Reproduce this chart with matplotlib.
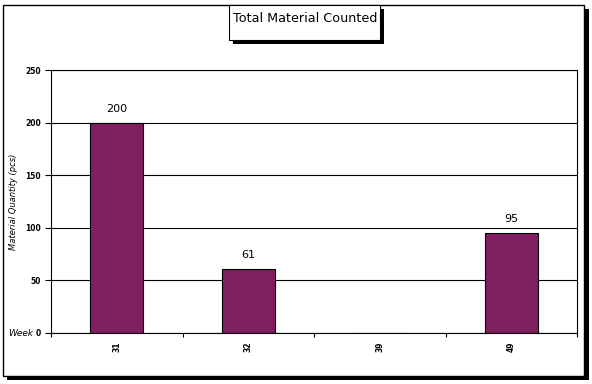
import numpy as np
import matplotlib.pyplot as plt
from matplotlib.patches import Rectangle

weeks = ['31', '32', '39', '49']
counts = [200, 61, 0, 95]
labels = ['200', '61', '', '95']

W, H = 592, 384
fig = plt.figure(figsize=(W / 100, H / 100), dpi=100, facecolor='white')


def px_rect(x0, y0, x1, y1, **kw):
    # rectangle in pixel coords (origin top-left)
    r = Rectangle((x0 / W, 1 - y1 / H), (x1 - x0) / W, (y1 - y0) / H,
                  transform=fig.transFigure, **kw)
    fig.add_artist(r)
    return r


# outer frame with shadow
px_rect(7, 9, 589, 380, facecolor='black', edgecolor='none', zorder=-2)
px_rect(3, 5, 584, 376, facecolor='white', edgecolor='black', lw=1.0, zorder=-1)

# title box with shadow
px_rect(233, 9, 384, 44, facecolor='black', edgecolor='none', zorder=3)
px_rect(229, 5, 380, 40, facecolor='white', edgecolor='black', lw=0.8, zorder=3.1)
fig.text(305 / W, 1 - 19 / H, 'Total Material Counted', ha='center', va='center',
         fontsize=9.2, family='DejaVu Sans', zorder=4)

ax = fig.add_axes([51 / W, 1 - 333 / H, (577 - 51) / W, (333 - 70) / H])
ax.set_zorder(1)
ax.set_facecolor('white')

x = np.arange(len(weeks))
bars = ax.bar(x, counts, width=0.4, color='#801f60', edgecolor='black', lw=0.8, zorder=2)
for xi, c, lab in zip(x, counts, labels):
    if lab:
        ax.annotate(lab, (xi, c), xytext=(0, 10), textcoords='offset points',
                    ha='center', va='center', fontsize=8)

ax.set_xlim(-0.5, len(weeks) - 0.5)
ax.set_ylim(0, 250)
ax.set_yticks([0, 50, 100, 150, 200, 250])
ax.set_yticklabels(['0', '50', '100', '150', '200', '250'], fontsize=5.5, fontweight='bold')
ax.yaxis.grid(True, color='black', lw=0.8, zorder=1)
ax.set_axisbelow(True)

ax.set_xticks(np.arange(len(weeks) + 1) - 0.5)
ax.set_xticklabels([])
ax.set_xticks(x, minor=True)
ax.set_xticklabels(weeks, minor=True, rotation=90, fontsize=5.5, fontweight='bold')
ax.tick_params(axis='x', which='minor', length=0, pad=6)
ax.tick_params(axis='x', which='major', direction='out', length=3, width=0.8)
ax.tick_params(axis='y', direction='out', length=4, width=0.8, pad=3)

for s in ['left', 'right', 'top', 'bottom']:
    ax.spines[s].set_linewidth(0.8)
    ax.spines[s].set_color('black')

ax.set_ylabel('Material Quantity (pcs)', fontsize=6, style='italic')
ax.yaxis.set_label_coords(-0.062, 0.5)
fig.text(8 / W, 1 - 333 / H, 'Week', ha='left', va='center', fontsize=6.5, style='italic', zorder=5)

fig.savefig('out.png', dpi=100, facecolor='white')
